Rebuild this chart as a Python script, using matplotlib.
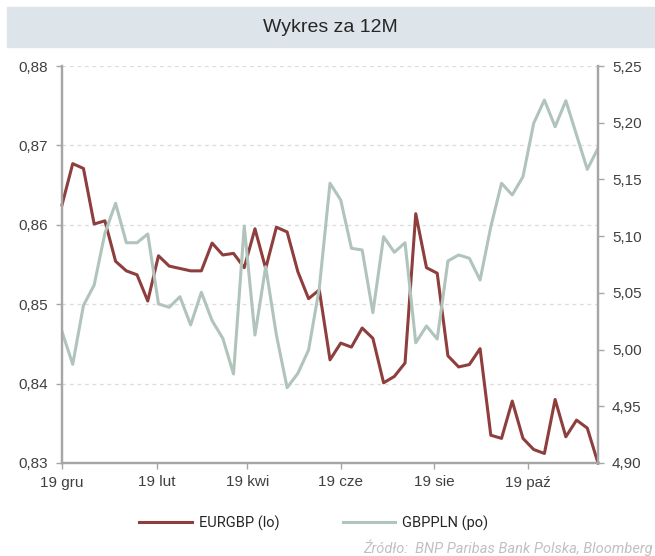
import matplotlib
matplotlib.use("Agg")
from matplotlib import pyplot as plt
from matplotlib.patches import Rectangle
import pandas as pd

# weekly fixings, Dec 2018 - Dec 2019
dates = pd.date_range("2018-12-19", periods=51, freq="7D")

eurgbp = [0.8625, 0.8677, 0.8671, 0.8601, 0.8605, 0.8554, 0.8542, 0.8537, 0.8504,
          0.8561, 0.8548, 0.8545, 0.8542, 0.8542, 0.8577, 0.8562, 0.8564, 0.8546,
          0.8595, 0.8545, 0.8597, 0.8591, 0.8541, 0.8507, 0.8518, 0.8430, 0.8451,
          0.8446, 0.8470, 0.8457, 0.8401, 0.8409, 0.8426, 0.8614, 0.8546, 0.8539,
          0.8435, 0.8421, 0.8424, 0.8444, 0.8335, 0.8331, 0.8378, 0.8331, 0.8317,
          0.8312, 0.8380, 0.8333, 0.8354, 0.8344, 0.8300]

gbppln = [5.0158, 4.9870, 5.0389, 5.0569, 5.1025, 5.1290, 5.0942, 5.0942, 5.1019,
          5.0402, 5.0373, 5.0466, 5.0217, 5.0505, 5.0255, 5.0099, 4.9785, 5.1089,
          5.0128, 5.0731, 5.0128, 4.9664, 4.9790, 4.9996, 5.0540, 5.1466, 5.1319,
          5.0893, 5.0878, 5.0325, 5.0995, 5.0858, 5.0942, 5.0060, 5.0208, 5.0093,
          5.0781, 5.0834, 5.0805, 5.0613, 5.1083, 5.1466, 5.1363, 5.1524, 5.1995,
          5.2200, 5.1965, 5.2194, 5.1892, 5.1589, 5.1774]

left_ticks = [0.83, 0.84, 0.85, 0.86, 0.87, 0.88]
right_ticks = [4.90, 4.95, 5.00, 5.05, 5.10, 5.15, 5.20, 5.25]
x_tick_dates = pd.to_datetime(["2018-12-19", "2019-02-19", "2019-04-19",
                               "2019-06-19", "2019-08-19", "2019-10-19"])
x_tick_labels = ["19 gru", "19 lut", "19 kwi", "19 cze", "19 sie", "19 paź"]

red = "#8e3e3c"
green = "#b0c4bb"
spine_c = "#a6a6a6"
text_c = "#404040"

plt.rcParams["font.family"] = ["Liberation Sans", "DejaVu Sans"]

fig = plt.figure(figsize=(6.55, 5.56), dpi=100)
ax = fig.add_axes([62 / 655, 1 - 463 / 556, (598 - 62) / 655, (463 - 66) / 556])
ax2 = ax.twinx()

# header band
fig.patches.append(Rectangle((7 / 655, 1 - 47 / 556), 1, 40 / 556,
                             transform=fig.transFigure, color="#dde5eb", zorder=0))
fig.text(330 / 655, 1 - 27 / 556, "Wykres za 12M", ha="center", va="center",
         fontsize=14, color="#262626")

ax.plot(dates, eurgbp, color=red, lw=2.2, label="EURGBP (lo)", clip_on=False)
ax2.plot(dates, gbppln, color=green, lw=2.2, label="GBPPLN (po)")

ax.set_ylim(0.83, 0.88)
ax2.set_ylim(4.90, 5.25)
ax.set_xlim(dates[0], dates[-1])
ax.set_yticks(left_ticks)
ax.set_yticklabels([f"{v:.2f}".replace(".", ",") for v in left_ticks])
ax2.set_yticks(right_ticks)
ax2.set_yticklabels([f"{v:.2f}".replace(".", ",") for v in right_ticks])
ax.set_xticks(x_tick_dates)
ax.set_xticklabels(x_tick_labels)

for v in left_ticks[1:]:
    ax.axhline(v, color="#dcdcdc", lw=0.9, ls=(0, (3, 3)), zorder=0)

for a in (ax, ax2):
    a.spines["top"].set_visible(False)
    for s in ("left", "right", "bottom"):
        a.spines[s].set_color(spine_c)
        a.spines[s].set_linewidth(1.6)
    a.tick_params(axis="both", colors=spine_c, labelcolor=text_c, labelsize=11,
                  length=4, width=1)
ax.tick_params(axis="y", pad=6)
ax2.tick_params(axis="y", pad=6)
ax.tick_params(axis="x", pad=5)

h1, l1 = ax.get_legend_handles_labels()
h2, l2 = ax2.get_legend_handles_labels()
fig.legend(h1 + h2, l1 + l2, loc="center", bbox_to_anchor=(314 / 655, 1 - 523 / 556),
           ncol=2, frameon=False, handlelength=3.6, columnspacing=4.3,
           handletextpad=0.5, prop={"family": "Roboto", "size": 10.5},
           labelcolor="#262626")

fig.text(653 / 655, 1 - 548 / 556, "Źródło:  BNP Paribas Bank Polska, Bloomberg",
         ha="right", va="center", fontsize=10.5, style="italic", color="#c0c0c0",
         family="Roboto")

fig.savefig("out.png", dpi=100)
